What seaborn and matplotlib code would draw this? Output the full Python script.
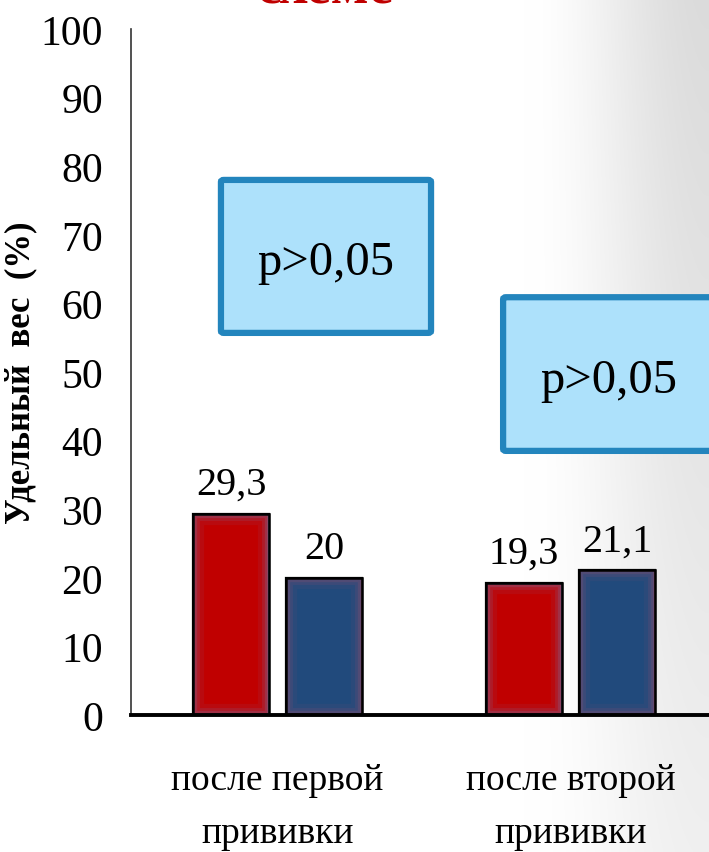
import numpy as np
import pandas as pd
import matplotlib
matplotlib.use("Agg")
import matplotlib.pyplot as plt
from matplotlib.patches import FancyBboxPatch, Rectangle
import seaborn as sns

# Data
categories = ["после первой\nпрививки", "после второй\nпрививки"]
groups = ["Группа 1", "Группа 2"]
values_g1 = [29.3, 19.3]
values_g2 = [20.0, 21.1]
y_ticks = list(range(0, 101, 10))
p_labels = ["p>0,05", "p>0,05"]

df = pd.DataFrame({
    "category": categories * 2,
    "group": [groups[0]] * 2 + [groups[1]] * 2,
    "value": values_g1 + values_g2,
})

sns.set_style("white")
plt.rcParams["font.family"] = ["Liberation Serif", "DejaVu Serif"]
for key in ["text.color", "xtick.color", "ytick.color", "axes.labelcolor"]:
    plt.rcParams[key] = "black"

W, H = 709, 853
fig = plt.figure(figsize=(W / 100, H / 100), dpi=100)

# Soft grey shading towards the right edge of the slide
bg = fig.add_axes([0, 0, 1, 1], zorder=-10)
xx = np.linspace(0, 1, 400)
yy = np.linspace(0, 1, 400)
X, Y = np.meshgrid(xx, yy)
s = np.clip((X - 0.74) / 0.26, 0, 1)
s = s * s * (3 - 2 * s)
shade = 1 - s * (0.14 - 0.08 * Y)
bg.imshow(np.dstack([shade] * 3), extent=[0, 1, 0, 1], origin="upper",
          aspect="auto", interpolation="bilinear")
bg.set_axis_off()

ax = fig.add_axes([131 / W, 137 / H, 586 / W, 686 / H])
ax.set_facecolor("none")

sns.barplot(data=df, x="category", y="value", hue="group",
            palette=["#C00000", "#214A7C"], width=0.634, gap=0.18,
            edgecolor="black", linewidth=1.6, ax=ax, legend=False,
            saturation=1)

# Inner glow along the edges of each bar
glow_colors = ["#7E6A9A", "#8C4F70"]
for cont, gc in zip(ax.containers, glow_colors):
    for bar in cont:
        for lw, a in [(16, 0.1), (10, 0.18), (6, 0.26), (3, 0.36)]:
            r = Rectangle(bar.get_xy(), bar.get_width(), bar.get_height(),
                          fill=False, edgecolor=gc, linewidth=lw, alpha=a,
                          zorder=bar.get_zorder() + 0.1)
            ax.add_patch(r)
            r.set_clip_path(bar)
        edge = Rectangle(bar.get_xy(), bar.get_width(), bar.get_height(),
                         fill=False, edgecolor="black", linewidth=1.8,
                         zorder=bar.get_zorder() + 0.2)
        ax.add_patch(edge)

for cont in ax.containers:
    ax.bar_label(cont, labels=[f"{b.get_height():g}".replace(".", ",") for b in cont],
                 padding=8, fontsize=29, color="black")

ax.set_xlim(-0.5, 1.5)
ax.set_ylim(0, 100)
ax.set_yticks(y_ticks)
ax.set_yticklabels([str(t) for t in y_ticks], fontsize=30)
ax.tick_params(axis="y", length=0, pad=20)
ax.tick_params(axis="x", length=0, pad=34, labelsize=27)
for lbl in ax.get_xticklabels():
    lbl.set_linespacing(1.7)
ax.set_xlabel("")
ax.set_ylabel("Удельный  вес  (%)", fontsize=25, fontweight="bold")
ax.yaxis.set_label_coords(-0.16, 0.5)

for side in ["top", "right"]:
    ax.spines[side].set_visible(False)
ax.spines["left"].set_linewidth(1.2)
ax.spines["left"].set_color("#333333")
ax.spines["bottom"].set_linewidth(2.8)
ax.spines["bottom"].set_color("black")

# Significance boxes
boxes = [(-0.193, 55.7, 0.717, 22.3), (0.77, 38.5, 0.72, 22.4)]
for (bx, by, bw, bh), txt in zip(boxes, p_labels):
    box = FancyBboxPatch((bx, by), bw, bh, boxstyle="round,pad=0,rounding_size=0.01",
                         facecolor="#ADE1FB", edgecolor="#2385BD", linewidth=4.5,
                         zorder=5, clip_on=False, mutation_aspect=30)
    ax.add_patch(box)
    ax.text(bx + bw / 2, by + bh / 2 - 0.8, txt, ha="center", va="center",
            fontsize=35, color="black", zorder=6, clip_on=False)

# Slide heading, partly above the visible area
fig.text(0.458, 1 - 4 / H, "схеме", ha="center", va="baseline",
         fontsize=40, fontweight="bold", color="#C00000")

fig.savefig("out.png", dpi=100)
